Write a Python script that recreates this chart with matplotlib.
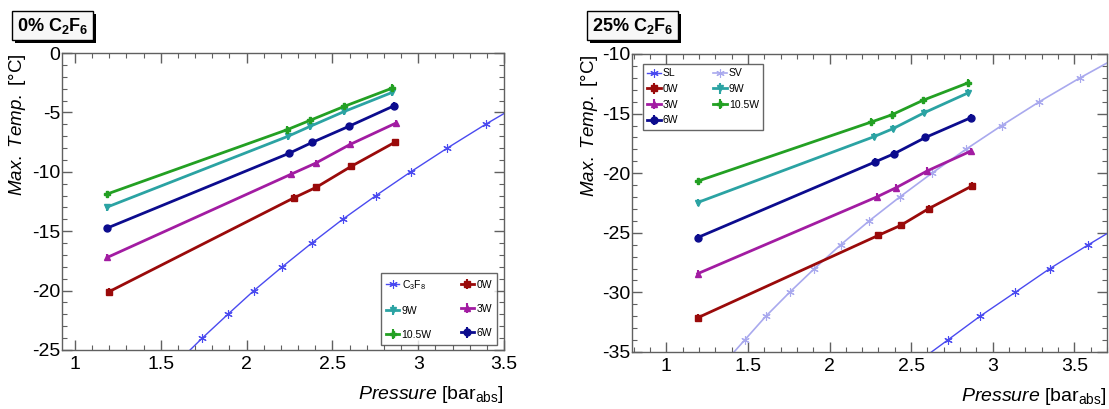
import matplotlib
matplotlib.use("Agg")
import matplotlib.pyplot as plt
import matplotlib.patheffects as pe
from matplotlib.ticker import MultipleLocator

plt.rcParams["font.family"] = ["Liberation Sans", "DejaVu Sans"]
plt.rcParams["mathtext.fontset"] = "custom"
plt.rcParams["mathtext.rm"] = "Liberation Sans"
plt.rcParams["mathtext.it"] = "Liberation Sans:italic"
plt.rcParams["mathtext.bf"] = "Liberation Sans:bold"

# ---- data: 0% C2F6 ----
c3f8_p = [1.60, 1.742, 1.891, 2.043, 2.208, 2.38, 2.56, 2.754, 2.957, 3.17, 3.393, 3.63]
c3f8_t = [-26, -24, -22, -20, -18, -16, -14, -12, -10, -8, -6, -4]

left_series = {
    "0W":    ([1.198, 2.275, 2.407, 2.609, 2.866], [-20.1, -12.2, -11.3, -9.55, -7.5]),
    "3W":    ([1.190, 2.260, 2.403, 2.603, 2.870], [-17.2, -10.2, -9.27, -7.7, -5.9]),
    "6W":    ([1.186, 2.250, 2.382, 2.595, 2.860], [-14.75, -8.43, -7.53, -6.18, -4.44]),
    "9W":    ([1.186, 2.240, 2.370, 2.570, 2.850], [-12.98, -7.02, -6.18, -4.92, -3.31]),
    "10.5W": ([1.186, 2.236, 2.370, 2.570, 2.850], [-11.88, -6.46, -5.67, -4.49, -2.95]),
}

# ---- data: 25% C2F6 ----
sl_p = [2.525, 2.724, 2.922, 3.137, 3.35, 3.586, 3.83]
sl_t = [-36, -34, -32, -30, -28, -26, -24]
sv_p = [1.35, 1.48, 1.61, 1.755, 1.908, 2.069, 2.243, 2.43, 2.627, 2.835, 3.055, 3.286, 3.535, 3.80]
sv_t = [-36, -34, -32, -30, -28, -26, -24, -22, -20, -18, -16, -14, -12, -10]

right_series = {
    "0W":    ([1.192, 2.300, 2.437, 2.608, 2.873], [-32.13, -25.21, -24.37, -22.97, -21.07]),
    "3W":    ([1.192, 2.290, 2.410, 2.600, 2.865], [-28.43, -21.99, -21.2, -19.8, -18.15]),
    "6W":    ([1.192, 2.280, 2.398, 2.588, 2.865], [-25.4, -19.05, -18.35, -17.0, -15.35]),
    "9W":    ([1.192, 2.270, 2.388, 2.580, 2.851], [-22.46, -16.95, -16.27, -14.93, -13.25]),
    "10.5W": ([1.192, 2.255, 2.382, 2.575, 2.851], [-20.67, -15.71, -15.1, -13.87, -12.41]),
}
meas_err = 0.3

colors = {"0W": "#9a0a0a", "3W": "#a21ca2", "6W": "#0c0c8e", "9W": "#2ba3a3", "10.5W": "#23a023"}
markers = {"0W": "s", "3W": "^", "6W": "o", "9W": "v", "10.5W": "P"}
sat_blue = "#4a4af0"
sat_light = "#a9a9ee"
asterisk = (6, 2, 0)


def style_axes(ax, ylab_x):
    for s in ax.spines.values():
        s.set_color("#606060")
        s.set_linewidth(1.0)
    ax.tick_params(which="both", direction="in", top=True, right=True,
                   colors="#606060", labelcolor="black", labelsize=14)
    ax.tick_params(which="major", length=7, width=1)
    ax.tick_params(which="minor", length=3.5, width=0.8)
    ax.tick_params(axis="y", pad=1)
    ax.tick_params(axis="x", pad=4)
    ax.xaxis.set_major_locator(MultipleLocator(0.5))
    ax.xaxis.set_minor_locator(MultipleLocator(0.1))
    ax.yaxis.set_major_locator(MultipleLocator(5))
    ax.yaxis.set_minor_locator(MultipleLocator(1))
    ax.xaxis.set_major_formatter(plt.FuncFormatter(lambda v, p: f"{v:g}"))
    ax.yaxis.set_major_formatter(plt.FuncFormatter(lambda v, p: f"{v:g}"))
    ax.set_xlabel(r"$\mathit{Pressure}$ [bar$_{\mathrm{abs}}$]", fontsize=14, ha="right")
    ax.xaxis.set_label_coords(1.0, -0.115)
    ax.text(ylab_x, 1.0, r"$\mathit{Max.\ Temp.}$ [°C]", rotation=90, ha="center",
            va="top", fontsize=13.5, transform=ax.transAxes)


def draw_meas(ax, series):
    handles = {}
    for name, (p, t) in series.items():
        h = ax.errorbar(p, t, yerr=meas_err, color=colors[name], marker=markers[name],
                        ms=5, lw=2, elinewidth=1.5, capsize=0, label=name)
        handles[name] = h
    return handles


def title_box(fig, x, y, text):
    t = fig.text(x, y, text, fontsize=13, ha="left", va="center",
                 bbox=dict(boxstyle="square,pad=0.25", fc="#f7f7f7", ec="black", lw=1))
    t.get_bbox_patch().set_path_effects([
        pe.SimplePatchShadow(offset=(2, -2), shadow_rgbFace="black", alpha=1),
        pe.Normal()])


fig = plt.figure(figsize=(11.09, 4.09), dpi=100)
axl = fig.add_axes([62 / 1109, 1 - 350 / 409, 442 / 1109, 297 / 409])
axr = fig.add_axes([632 / 1109, 1 - 352 / 409, 475 / 1109, 298 / 409])

# left panel
hc = axl.plot(c3f8_p, c3f8_t, color=sat_blue, lw=1, marker=asterisk, ms=6, mew=0.8,
              label=r"C$_3$F$_8$")[0]
hl = draw_meas(axl, left_series)
axl.set_xlim(0.925, 3.5)
axl.set_ylim(-25, 0)
style_axes(axl, -0.1)
lh = [hc, hl["9W"], hl["10.5W"], hl["0W"], hl["3W"], hl["6W"]]
leg = axl.legend(handles=lh, labels=[h.get_label() for h in lh], ncol=2, loc="lower left",
                 bbox_to_anchor=(0.721, 0.017, 0.263, 0.262), mode="expand",
                 fontsize=7.5, frameon=True, fancybox=False, edgecolor="#404040",
                 handlelength=1.3, handletextpad=0.2, labelspacing=1.35,
                 borderaxespad=0, borderpad=0.5, columnspacing=0.5)
leg.get_frame().set_linewidth(1)

# right panel
hsl = axr.plot(sl_p, sl_t, color=sat_blue, lw=1, marker=asterisk, ms=6, mew=0.8, label="SL")[0]
hsv = axr.plot(sv_p, sv_t, color=sat_light, lw=1.2, marker=asterisk, ms=6, mew=0.8, label="SV")[0]
hr = draw_meas(axr, right_series)
axr.set_xlim(0.79, 3.70)
axr.set_ylim(-35, -10)
style_axes(axr, -0.09)
rh = [hsl, hr["0W"], hr["3W"], hr["6W"], hsv, hr["9W"], hr["10.5W"]]
leg = axr.legend(handles=rh, labels=[h.get_label() for h in rh], ncol=2, loc="upper left",
                 bbox_to_anchor=(0.023, 0.718, 0.253, 0.248), mode="expand",
                 fontsize=7.5, frameon=True, fancybox=False, edgecolor="#404040",
                 handlelength=1.3, handletextpad=0.2, labelspacing=0.55,
                 borderaxespad=0, borderpad=0.4, columnspacing=0.5)
leg.get_frame().set_linewidth(1)

title_box(fig, 17 / 1109, 1 - 25.5 / 409, r"$\mathbf{0\%\ C_2F_6}$")
title_box(fig, 592 / 1109, 1 - 25.5 / 409, r"$\mathbf{25\%\ C_2F_6}$")

fig.savefig("out.png", dpi=100)
